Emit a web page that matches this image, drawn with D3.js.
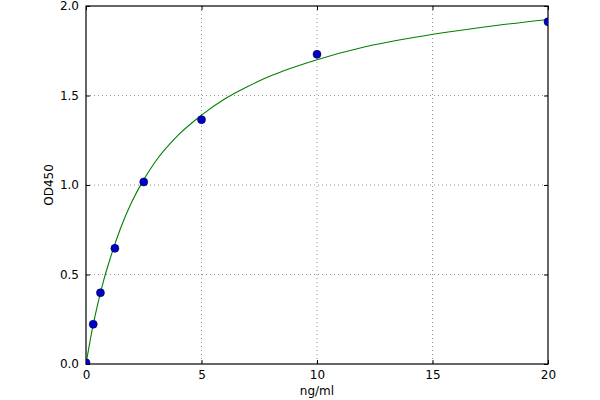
<!DOCTYPE html>
<html>
<head>
<meta charset="utf-8">
<script src="https://cdn.jsdelivr.net/npm/d3@7"></script>
<style>
  html, body { margin: 0; padding: 0; background: #fff; }
  svg { display: block; font-family: "DejaVu Sans", sans-serif; }
</style>
</head>
<body>
<svg id="chart" width="600" height="400"></svg>
<script>
// Measured standards (ng/ml, OD450)
const conc = [0, 0.3125, 0.625, 1.25, 2.5, 5, 10, 20];
const od = [0.007, 0.222, 0.398, 0.646, 1.017, 1.365, 1.730, 1.912];

// Fitted curve
const curveX = [0, 0.25, 0.5, 0.75, 1, 1.5, 2, 2.5, 3, 4, 5, 6, 7, 8, 10, 12, 14, 16, 18, 20];
const curveY = [0, 0.18, 0.33, 0.46, 0.57, 0.76, 0.91, 1.03, 1.13, 1.28, 1.39, 1.48, 1.55, 1.61, 1.70, 1.77, 1.82, 1.86, 1.895, 1.925];

const xTicks = [0, 5, 10, 15, 20];
const yTicks = [0, 0.5, 1.0, 1.5, 2.0];
const xLabel = "ng/ml";
const yLabel = "OD450";

(function () {
const svg = d3.select("#chart");
const pL = 86, pR = 548, pT = 6, pB = 364;

const x = d3.scaleLinear().domain([0, 20]).range([pL, pR]);
const y = d3.scaleLinear().domain([0, 2]).range([pB, pT]);

// grid
const grid = svg.append("g");
grid.selectAll("line.gx").data(xTicks.slice(1, -1)).enter().append("line")
  .attr("x1", d => x(d)).attr("x2", d => x(d)).attr("y1", pT).attr("y2", pB)
  .attr("stroke", "#000").attr("stroke-width", 0.6).attr("stroke-dasharray", "1,3").attr("opacity", 0.7);
grid.selectAll("line.gy").data(yTicks.slice(1, -1)).enter().append("line")
  .attr("y1", d => y(d)).attr("y2", d => y(d)).attr("x1", pL).attr("x2", pR)
  .attr("stroke", "#000").attr("stroke-width", 0.6).attr("stroke-dasharray", "1,3").attr("opacity", 0.7);

// axes with inward ticks
const xAxis = d3.axisBottom(x).tickValues(xTicks).tickFormat(d3.format("d")).tickSizeInner(-4).tickSizeOuter(0).tickPadding(6);
const yAxis = d3.axisLeft(y).tickValues(yTicks).tickFormat(d3.format(".1f")).tickSizeInner(-4).tickSizeOuter(0).tickPadding(7);
const gx = svg.append("g").attr("transform", `translate(0,${pB})`).call(xAxis);
const gy = svg.append("g").attr("transform", `translate(${pL},0)`).call(yAxis);
const gxTop = svg.append("g").attr("transform", `translate(0,${pT})`)
  .call(d3.axisTop(x).tickValues(xTicks).tickFormat("").tickSizeInner(-4).tickSizeOuter(0));
const gyRight = svg.append("g").attr("transform", `translate(${pR},0)`)
  .call(d3.axisRight(y).tickValues(yTicks).tickFormat("").tickSizeInner(-4).tickSizeOuter(0));
[gx, gy, gxTop, gyRight].forEach(g => {
  g.select(".domain").remove();
  g.selectAll("text").attr("font-family", "DejaVu Sans, sans-serif").attr("font-size", 12).attr("fill", "#000");
  g.selectAll(".tick line").attr("stroke", "#000");
});

// frame
svg.append("rect").attr("x", pL).attr("y", pT).attr("width", pR - pL).attr("height", pB - pT)
  .attr("fill", "none").attr("stroke", "#000").attr("stroke-width", 1.2);

// clip
svg.append("clipPath").attr("id", "clip").append("rect")
  .attr("x", pL).attr("y", pT).attr("width", pR - pL).attr("height", pB - pT);

// curve
const pts = curveX.map((d, i) => [d, curveY[i]]);
svg.append("path").datum(pts)
  .attr("d", d3.line().x(d => x(d[0])).y(d => y(d[1])).curve(d3.curveMonotoneX))
  .attr("fill", "none").attr("stroke", "#008000").attr("stroke-width", 1.1);

// points
svg.append("g").attr("clip-path", "url(#clip)").selectAll("circle").data(conc).enter().append("circle")
  .attr("cx", d => x(d)).attr("cy", (d, i) => y(od[i])).attr("r", 4)
  .attr("fill", "#0000cc").attr("stroke", "#000033").attr("stroke-width", 0.6);

// labels
svg.append("text").attr("x", (pL + pR) / 2).attr("y", 395).attr("text-anchor", "middle")
  .attr("font-size", 12).text(xLabel);
svg.append("text").attr("transform", `translate(53,${(pT + pB) / 2}) rotate(-90)`)
  .attr("text-anchor", "middle").attr("font-size", 12).text(yLabel);
})();
</script>
</body>
</html>
